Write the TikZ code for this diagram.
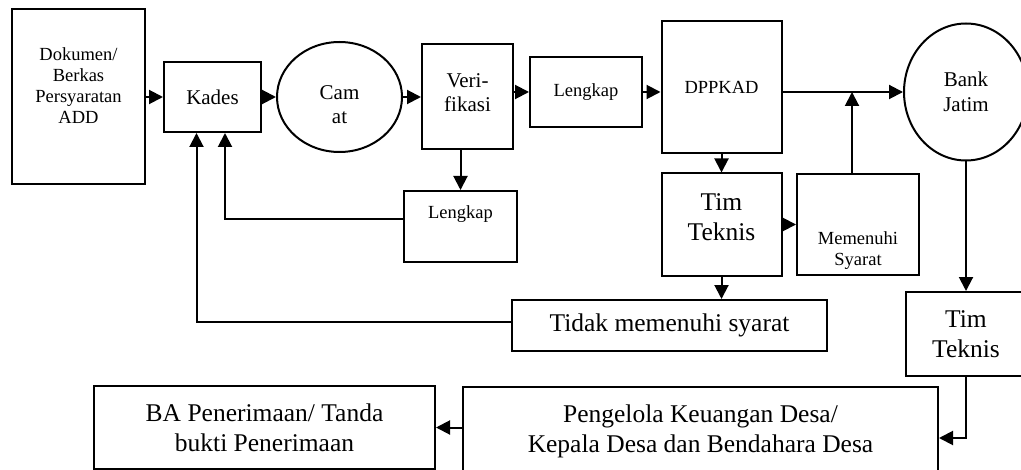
\documentclass[tikz,border=0pt]{standalone}
\usepackage{fontspec}
\setmainfont{Liberation Serif}
\usetikzlibrary{arrows.meta, shapes.geometric}

\begin{document}
\begin{tikzpicture}[
    x=0.5pt, y=-0.5pt,
    box/.style={
        draw,
        line width=1pt,
        align=center,
        inner sep=2pt
    },
    oval/.style={
        draw,
        ellipse,
        line width=1pt,
        align=center,
        inner sep=0pt
    },
    smalltext/.style={font=\fontsize{9.25}{10.5}\selectfont},
    midtext/.style={font=\fontsize{10.5}{12.25}\selectfont},
    bigtext/.style={font=\fontsize{12.75}{15}\selectfont},
    arrow/.style={-{Triangle[length=7pt,width=7pt]}, line width=1pt}
]
\useasboundingbox (0,0) rectangle (1021,470);
\clip (0,0) rectangle (1021,470);

% ------------------------
% Upper row
% ------------------------
\node (doc) [box, smalltext, text depth=11.5pt,
  minimum width=66.5pt, minimum height=87.5pt] at (78.5,97)
{Dokumen/\\ Berkas\\ Persyaratan\\ ADD};

\node (kades) [box, midtext,
  minimum width=48.5pt, minimum height=35pt] at (212.5,97)
{Kades};

\node (cam) [oval, midtext, text height=27pt,
  minimum width=62.5pt, minimum height=55pt] at (339.5,97)
{Cam\\ at};

\node (verif) [box, midtext, text depth=4.5pt,
  minimum width=45.5pt, minimum height=52.5pt] at (467.5,97)
{Veri-\\ fikasi};

\node (lengkapA) [box, smalltext,
  minimum width=56pt, minimum height=35pt] at (586,92)
{Lengkap};

\node (dppkad) [box, smalltext,
  minimum width=60pt, minimum height=66pt] at (721.5,87)
{DPPKAD};

\node (bank) [oval, midtext,
  minimum width=62pt, minimum height=68.5pt] at (966,92)
{Bank\\ Jatim};

% ------------------------
% Middle row
% ------------------------
\node (lengkapB) [box, smalltext, text depth=14.5pt,
  minimum width=56.5pt, minimum height=35.5pt] at (460.5,226.5)
{Lengkap};

\node (timA) [box, bigtext, text depth=7.5pt,
  minimum width=60pt, minimum height=51pt] at (721.5,224.5)
{Tim\\ Teknis};

\node (memenuhi) [box, smalltext, text height=43pt,
  minimum width=61pt, minimum height=50pt] at (858,224.5)
{Memenuhi\\ Syarat};

\node (tidak) [box, bigtext,
  minimum width=157.5pt, minimum height=25.5pt] at (669.5,325.5)
{Tidak memenuhi syarat};

\node (timB) [box, bigtext,
  minimum width=60pt, minimum height=42pt] at (966,334)
{Tim\\ Teknis};

% ------------------------
% Bottom row
% ------------------------
\node (pengelola) [box, bigtext,
  minimum width=237.5pt, minimum height=44pt] at (700.5,431)
{Pengelola Keuangan Desa/\\ Kepala Desa dan Bendahara Desa};

\node (ba) [box, bigtext,
  minimum width=170.5pt, minimum height=41.5pt] at (264.5,427.5)
{BA Penerimaan/ Tanda\\ bukti Penerimaan};

% ------------------------
% Arrows
% ------------------------
\draw[arrow] (doc) -- (kades);
\draw[arrow] (kades) -- (cam);
\draw[arrow] (cam) -- (verif);
\draw[arrow] (verif.east |- lengkapA.west) -- (lengkapA.west);
\draw[arrow] (lengkapA.east) -- (lengkapA.east -| dppkad.west);
\draw[arrow] (dppkad.east |- bank.west) -- (bank.west);

\draw[arrow] (lengkapB.north |- verif.south) -- (lengkapB.north);
\draw[arrow] ([yshift=3.75pt]lengkapB.west) -| ([xshift=6.25pt]kades.south);
\draw[arrow] ([yshift=1.75pt]tidak.west) -| ([xshift=-8pt]kades.south);

\draw[arrow] (dppkad) -- (timA);
\draw[arrow] (timA) -- (memenuhi);
\draw[arrow] (timA.south) -- (timA.south |- tidak.north);
\draw[arrow] ([xshift=-3pt]memenuhi.north) -- ([xshift=-3pt]memenuhi.north |- bank.west);

\draw[arrow] (bank) -- (timB);
\draw[arrow] (timB.south) |- ([yshift=-3.5pt]pengelola.east);
\draw[arrow] (pengelola.west |- ba.east) -- (ba.east);

\end{tikzpicture}
\end{document}
